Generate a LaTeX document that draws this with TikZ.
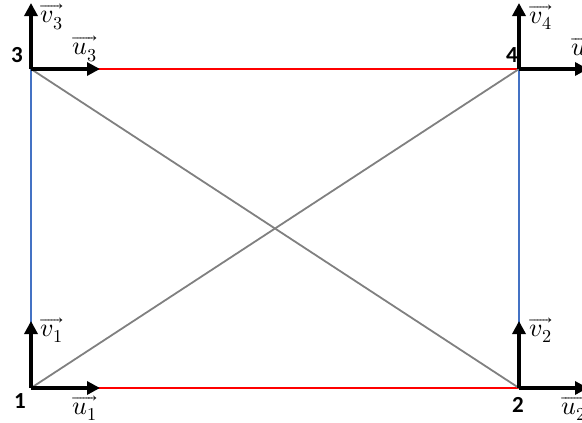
\documentclass[tikz,border=0pt]{standalone}
\usepackage{fontspec}
\usepackage{unicode-math}
\setmathfont{Latin Modern Math}
\newfontfamily\numfont{Carlito}
\usetikzlibrary{arrows.meta}
\definecolor{edgeblue}{RGB}{68,114,196}

\begin{document}
\begin{tikzpicture}[x=1pt,y=-1pt,
  vec/.style={line width=4pt,-{Triangle[length=13pt,width=13pt]}},
  redge/.style={red,line width=2pt},
  bedge/.style={edgeblue,line width=1.8pt},
  gedge/.style={gray,line width=1.8pt},
  num/.style={font=\numfont\bfseries\fontsize{23}{27}\selectfont,inner sep=0pt},
  lbl/.style={font=\fontsize{26}{30}\selectfont,inner sep=0pt}]
\useasboundingbox (0,0) rectangle (582,423);
% corners
\coordinate (n1) at (31,388);
\coordinate (n2) at (519,388);
\coordinate (n3) at (31,69);
\coordinate (n4) at (519,69);
% arrow tips
\coordinate (u1) at (100,388);
\coordinate (v1) at (31,321);
\coordinate (u2) at (588,388);
\coordinate (v2) at (519,321);
\coordinate (u3) at (100,69);
\coordinate (v3) at (31,3);
\coordinate (u4) at (588,69);
\coordinate (v4) at (519,3);
%edges
\draw[redge] (n1) -- (n2);
\draw[redge] (n3) -- (n4);
\draw[bedge] (n1) -- (n3);
\draw[bedge] (n2) -- (n4);
\draw[gedge] (n1) -- (n4);
\draw[gedge] (n3) -- (n2);
%vectors
\foreach \i in {1,2,3,4}{
  \draw[vec] (n\i) -- (u\i);
  \draw[vec] (n\i) -- (v\i);
}
%labels
\node[num] (l1) at (20,401) {1};
\node[num] (l2) at (518,405) {2};
\node[num] (l3) at (17,55) {3};
\node[num] (l4) at (512,55) {4};
\node[lbl] (tu1) at (85,408) {$\overrightarrow{u_1}$};
\node[lbl] (tv1) at (52,330) {$\overrightarrow{v_1}$};
\node[lbl,anchor=west] (tu2) at (561,408) {$\overrightarrow{u_2}$};
\node[lbl] (tv2) at (541,330) {$\overrightarrow{v_2}$};
\node[lbl] (tu3) at (85,49) {$\overrightarrow{u_3}$};
\node[lbl] (tv3) at (52,17) {$\overrightarrow{v_3}$};
\node[lbl,anchor=west] (tu4) at (571,49) {$\overrightarrow{u_4}$};
\node[lbl] (tv4) at (541,17) {$\overrightarrow{v_4}$};
\end{tikzpicture}
\end{document}
